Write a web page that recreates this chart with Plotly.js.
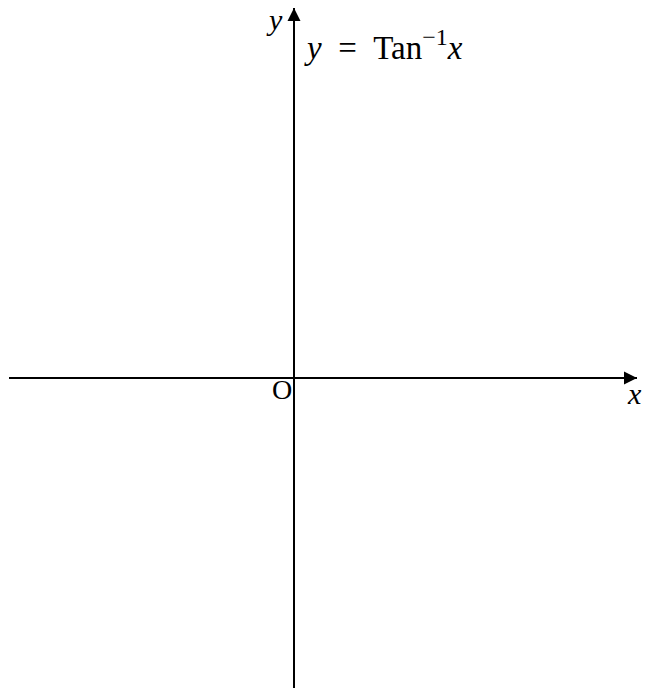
<!DOCTYPE html>
<html><head><meta charset="utf-8">
<script src="https://cdn.plot.ly/plotly-3.0.1.min.js"></script>
<style>html,body{margin:0;padding:0;background:#fff}</style>
</head><body>
<div id="chart" style="width:645px;height:690px"></div>
<script>
// axis extents in data units (origin at 0,0)
const xAxisX = [-2.85, 3.43];
const xAxisY = [0, 0];
const yAxisX = [0, 0];
const yAxisY = [-3.10, 3.70];
const curveLabel = "<i>y</i>\u2002=\u2002Tan<sup><span style=\"font-size:24px\">−1</span></sup><i>x</i>";
const labels = {x: "<i>x</i>", y: "<i>y</i>", o: "O"};

const font = {family: "Liberation Serif, DejaVu Serif, serif", color: "#000"};

function axisTrace(xs, ys) {
  return {
    x: xs, y: ys, type: "scatter", mode: "lines",
    line: {color: "#000", width: 2},
    hoverinfo: "skip"
  };
}

const data = [axisTrace(xAxisX, xAxisY), axisTrace(yAxisX, yAxisY)];

function head(x, y, ax, ay) {
  return {x: x, y: y, xref: "x", yref: "y", ax: ax, ay: ay, text: "", showarrow: true,
          arrowhead: 2, arrowsize: 1.3, arrowwidth: 2, arrowcolor: "#000", standoff: 0};
}

const layout = {
  width: 645, height: 690,
  margin: {l: 0, r: 0, t: 0, b: 0},
  paper_bgcolor: "#fff", plot_bgcolor: "#fff",
  showlegend: false,
  xaxis: {range: [-2.94, 3.51], visible: false, fixedrange: true},
  yaxis: {range: [-3.12, 3.78], visible: false, fixedrange: true},
  annotations: [
    head(xAxisX[1], xAxisY[1], -20, 0),
    head(yAxisX[1], yAxisY[1], 0, 20),
    {x: 0.08, y: 3.33, xref: "x", yref: "y", xanchor: "left", yanchor: "middle", showarrow: false,
     text: curveLabel, font: Object.assign({size: 33}, font)},
    {x: -0.09, y: 3.59, xref: "x", yref: "y", xanchor: "right", yanchor: "middle", showarrow: false,
     text: labels.y, font: Object.assign({size: 30}, font)},
    {x: -0.005, y: 0.06, xref: "x", yref: "y", xanchor: "right", yanchor: "top", showarrow: false,
     text: labels.o, font: Object.assign({size: 28}, font)},
    {x: 3.40, y: 0.03, xref: "x", yref: "y", xanchor: "center", yanchor: "top", showarrow: false,
     text: labels.x, font: Object.assign({size: 30}, font)}
  ]
};
Plotly.newPlot("chart", data, layout, {staticPlot: true, displayModeBar: false});
</script>
</body></html>
